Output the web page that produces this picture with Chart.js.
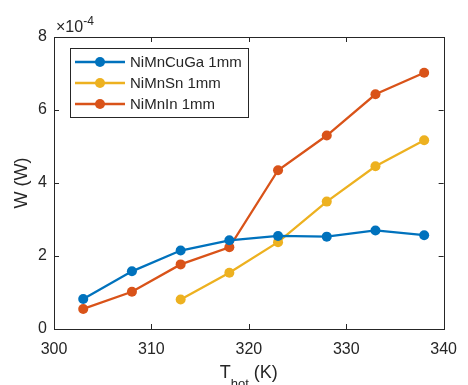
<!DOCTYPE html>
<html><head><meta charset="utf-8">
<script src="https://cdn.jsdelivr.net/npm/chart.js@4/dist/chart.umd.min.js"></script>
<style>html,body{margin:0;padding:0;background:#fff;}#wrap{width:468px;height:385px;}</style>
</head><body><div id="wrap"><canvas id="c" width="468" height="385"></canvas></div>
<script>
const temps = [303, 308, 313, 318, 323, 328, 333, 338];
const niMnCuGa = [0.82, 1.58, 2.15, 2.43, 2.55, 2.53, 2.70, 2.57];
const niMnSn = [null, null, 0.81, 1.54, 2.38, 3.49, 4.46, 5.17];
const niMnIn = [0.55, 1.02, 1.77, 2.24, 4.35, 5.30, 6.43, 7.02];
const seriesNames = ['NiMnCuGa 1mm', 'NiMnSn 1mm', 'NiMnIn 1mm'];
const xTicks = [300, 310, 320, 330, 340];
const yTicks = [0, 2, 4, 6, 8];
const colors = ['#0072BD', '#EDB120', '#D95319'];
const FONT = '"Liberation Sans", Arial, sans-serif';
const AX = '#262626';

function mk(vals){ return temps.map((t,i)=> vals[i]==null ? null : {x:t, y:vals[i]}).filter(p=>p); }

const datasets = [niMnCuGa, niMnSn, niMnIn].map((v,i)=>({
  label: seriesNames[i], data: mk(v), borderColor: colors[i], backgroundColor: colors[i],
  borderWidth: 2.3, pointRadius: 5, pointHoverRadius: 5, pointBorderWidth: 0, tension: 0
}));
const deco = {
  id: 'deco',
  afterDatasetsDraw(chart){
    const ctx = chart.ctx, a = chart.chartArea, xs = chart.scales.x, ys = chart.scales.y;
    ctx.save();
    ctx.strokeStyle = AX; ctx.lineWidth = 1;
    ctx.strokeRect(Math.round(a.left)+0.5, Math.round(a.top)+0.5, Math.round(a.right-a.left), Math.round(a.bottom-a.top));
    const L = 5;
    xTicks.forEach(t=>{ const px = Math.round(xs.getPixelForValue(t))+0.5;
      ctx.beginPath(); ctx.moveTo(px,a.bottom); ctx.lineTo(px,a.bottom-L); ctx.moveTo(px,a.top); ctx.lineTo(px,a.top+L); ctx.stroke(); });
    yTicks.forEach(t=>{ const py = Math.round(ys.getPixelForValue(t))+0.5;
      ctx.beginPath(); ctx.moveTo(a.left,py); ctx.lineTo(a.left+L,py); ctx.moveTo(a.right,py); ctx.lineTo(a.right-L,py); ctx.stroke(); });
    // exponent label
    ctx.fillStyle = AX; ctx.textBaseline = 'alphabetic'; ctx.textAlign = 'left';
    ctx.font = '16px ' + FONT;
    ctx.fillText('\u00d710', a.left+2, a.top-5);
    const w = ctx.measureText('\u00d710').width;
    ctx.font = '12px ' + FONT;
    ctx.fillText('-4', a.left+2+w, a.top-12);
    // x title
    const cx = (a.left+a.right)/2;
    const p1='T', p3=' (K)';
    ctx.font = '18px ' + FONT; const w1 = ctx.measureText(p1).width, w3 = ctx.measureText(p3).width;
    ctx.font = '13px ' + FONT; const w2 = ctx.measureText('hot').width;
    let sx = cx - (w1+w2+w3)/2; const by = 378;
    ctx.font = '18px ' + FONT; ctx.fillText(p1, sx, by);
    ctx.font = '13px ' + FONT; ctx.fillText('hot', sx+w1, by+10);
    ctx.font = '18px ' + FONT; ctx.fillText(p3, sx+w1+w2, by);
    // y title
    ctx.save(); ctx.translate(27, (a.top+a.bottom)/2); ctx.rotate(-Math.PI/2);
    ctx.textAlign='center'; ctx.font = '18px ' + FONT; ctx.fillText('W (W)', 0, 0); ctx.restore();
    // legend
    const lx = a.left+16, ly = a.top+11, lw = 178, lh = 69;
    ctx.fillStyle = '#fff'; ctx.fillRect(lx, ly, lw, lh);
    ctx.strokeStyle = AX; ctx.lineWidth = 1; ctx.strokeRect(lx+0.5, ly+0.5, lw, lh);
    ctx.font = '15px ' + FONT; ctx.textBaseline = 'middle';
    datasets.forEach((d,i)=>{
      const yy = ly + 14 + i*21;
      ctx.strokeStyle = d.borderColor; ctx.lineWidth = 2.3;
      ctx.beginPath(); ctx.moveTo(lx+5, yy); ctx.lineTo(lx+55, yy); ctx.stroke();
      ctx.fillStyle = d.borderColor; ctx.beginPath(); ctx.arc(lx+30, yy, 5, 0, Math.PI*2); ctx.fill();
      ctx.fillStyle = AX; ctx.fillText(d.label, lx+60, yy+1);
    });
    ctx.restore();
  }
};

new Chart(document.getElementById('c'), {
  type: 'line',
  data: { datasets },
  options: {
    responsive: false, animation: false, devicePixelRatio: 1,
    layout: { padding: { top: 37, right: 16, left: 0, bottom: 0 } },
    plugins: { legend: { display: false }, tooltip: { enabled: false } },
    scales: {
      x: { type: 'linear', min: 300, max: 340,
        afterBuildTicks: s => { s.ticks = xTicks.map(v=>({value:v})); },
        afterFit: s => { s.height = 56; },
        grid: { display: false, drawTicks: false }, border: { display: false },
        ticks: { padding: 11, color: AX, font: { family: FONT, size: 16 }, maxRotation: 0 } },
      y: { min: 0, max: 8,
        afterBuildTicks: s => { s.ticks = yTicks.map(v=>({value:v})); },
        afterFit: s => { s.width = 54; },
        grid: { display: false, drawTicks: false }, border: { display: false },
        ticks: { padding: 7, color: AX, font: { family: FONT, size: 16 } } }
    }
  },
  plugins: [deco]
});
</script></body></html>
